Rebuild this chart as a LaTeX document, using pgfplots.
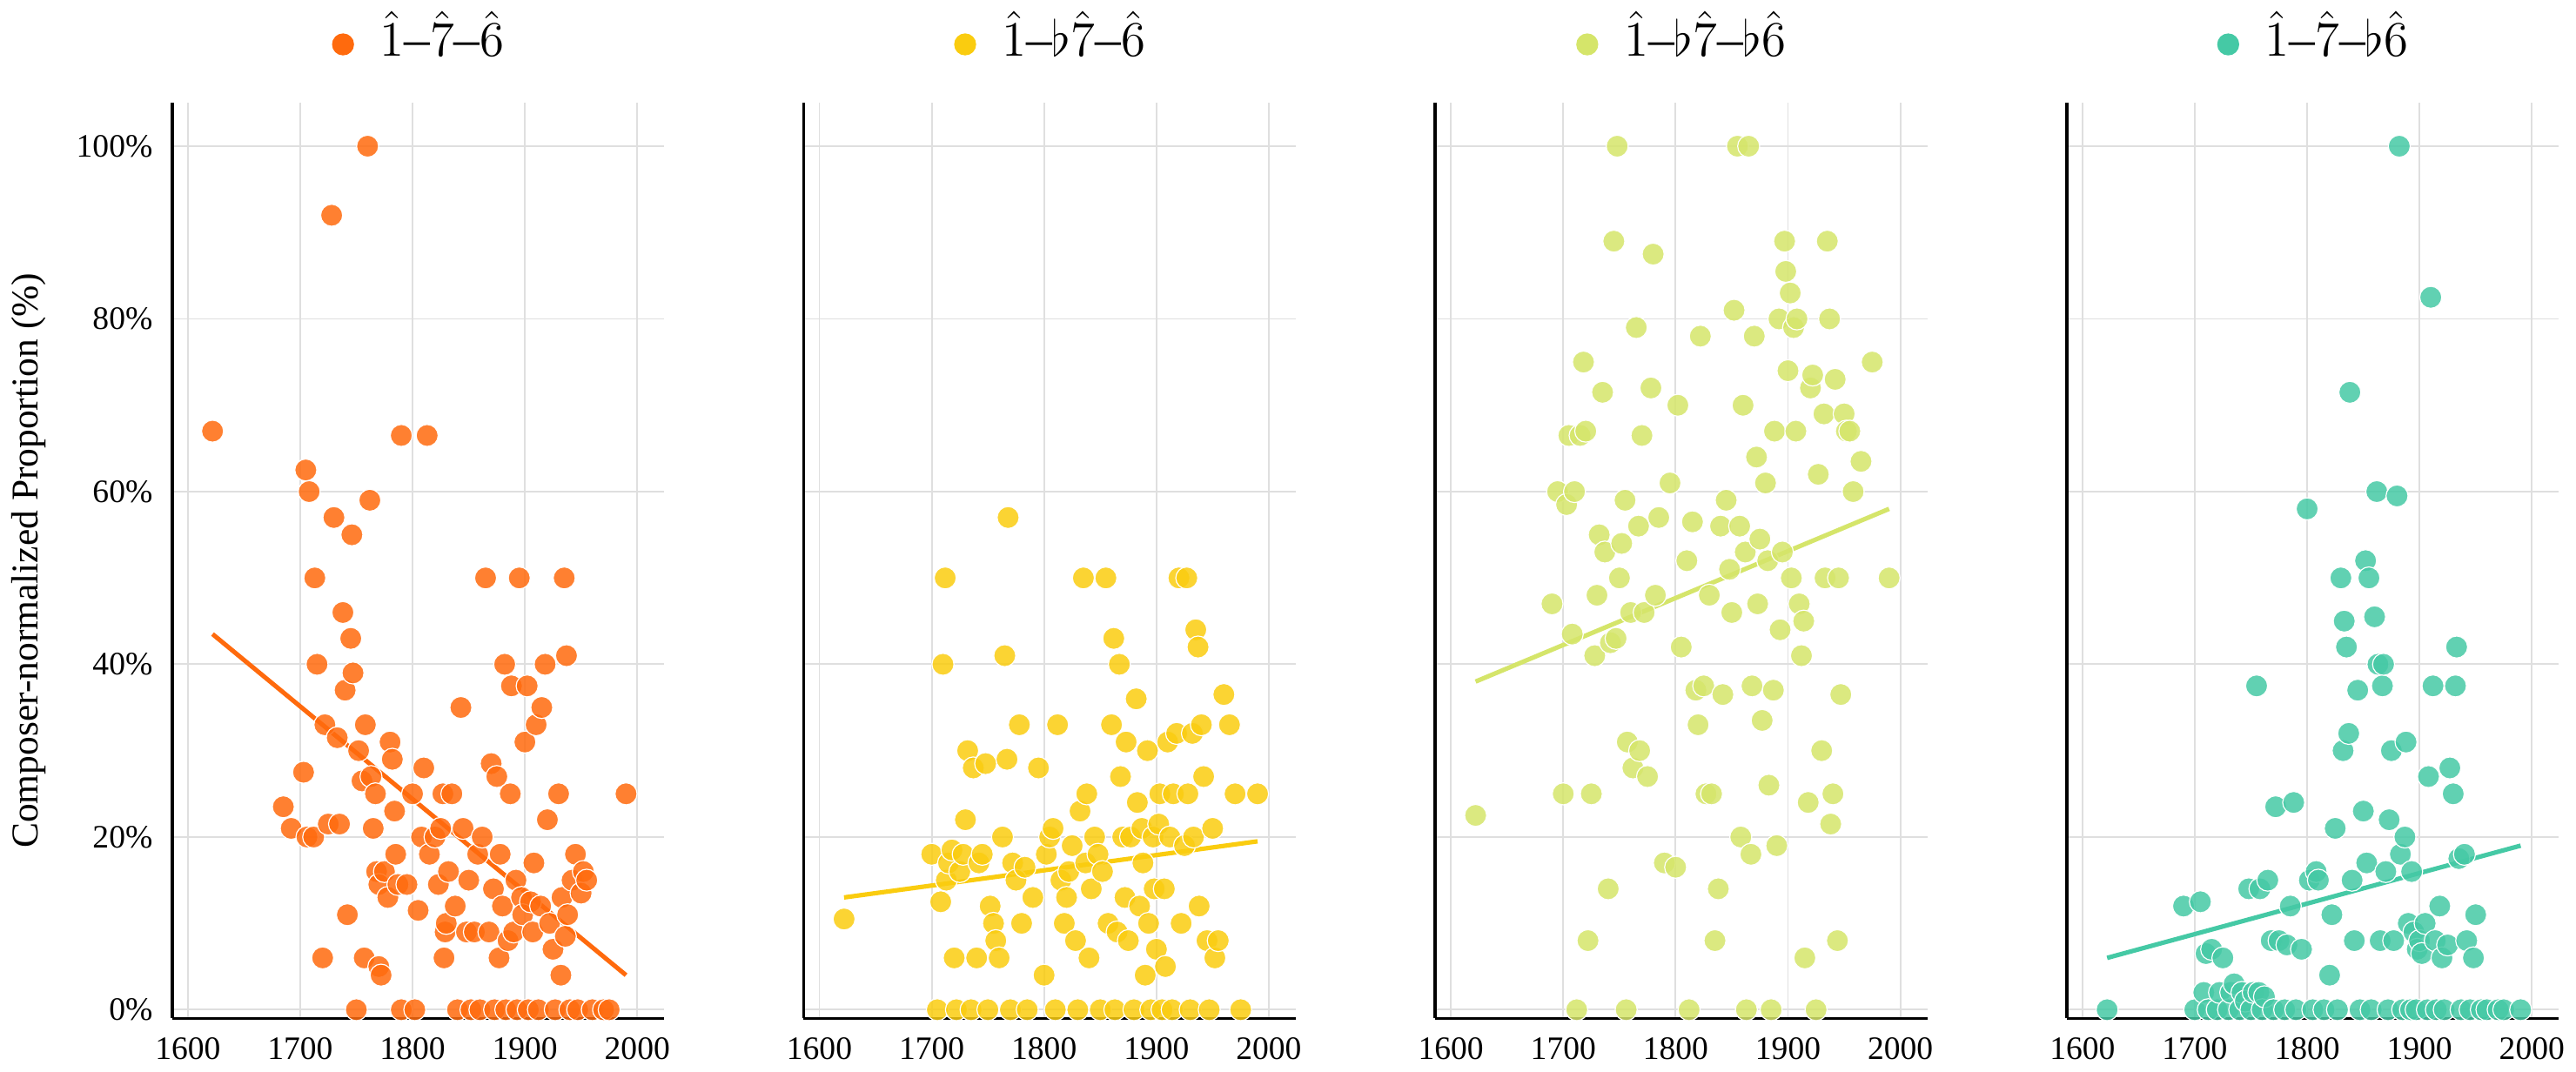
\documentclass[border=0pt]{standalone}
\usepackage{fontspec}
\setmainfont{Liberation Serif}
\usepackage{pgfplots}
\pgfplotsset{compat=1.18}
\definecolor{cA}{HTML}{FF6A0D}
\definecolor{cB}{HTML}{FACC0F}
\definecolor{cC}{HTML}{D5E56A}
\definecolor{cD}{HTML}{45C9A5}
\pgfplotsset{
 pan/.style={scale only axis, width=143pt, height=266pt,
  xmin=1586, xmax=2024, ymin=-1, ymax=105,
  axis x line=bottom, axis y line=left, axis line style={line width=0.9pt,-},
  xtick={1600,1700,1800,1900,2000}, ytick={0,20,40,60,80,100},
  xticklabel style={/pgf/number format/1000 sep={}},
  grid=major, grid style={gray!25, line width=0.5pt},
  tick style={draw=none}, tick label style={font=\rmfamily\fontsize{9.5}{11}\selectfont},
  /pgf/number format/assume math mode=true,
  title style={font=\fontsize{15}{17}\selectfont, yshift=4pt},
  clip=false},
 pts/.style={only marks, mark=*, mark size=3.2pt, draw=white, line width=0.3pt, fill=#1, fill opacity=0.85, draw opacity=1},
 reg/.style={no marks, draw=#1, line width=1.3pt}
}
\begin{document}
\begin{tikzpicture}
\begin{axis}[pan, at={(58.5pt,0)},
 yticklabel={\pgfmathprintnumber{\tick}\%},
 ylabel={Composer-normalized Proportion (\%)}, ylabel style={font=\fontsize{11}{13}\selectfont, yshift=2pt},
 title={\tikz[baseline=-3.5pt]\fill[cA] circle(3.2pt);\ \ $\hat{1}$–$\hat{7}$–$\hat{6}$}]
\addplot[pts=cA] coordinates {(1622,67)(1685,23.5)(1692,21)(1703,27.5)(1705,62.5)(1708,60)(1706,20)(1712,20)(1713,50)(1715,40)(1720,6)(1722,33)(1725,21.5)(1728,92)(1730,57)(1733,31.5)(1735,21.5)(1738,46)(1740,37)(1742,11)(1745,43)(1746,55)(1747,39)(1750,0)(1752,30)(1755,26.5)(1757,6)(1758,33)(1760,100)(1762,59)(1763,27)(1765,21)(1767,25)(1768,16)(1770,14.5)(1770,5)(1772,4)(1775,16)(1778,13)(1780,31)(1782,29)(1784,23)(1785,18)(1787,14.5)(1790,66.5)(1790,0)(1795,14.5)(1800,25)(1802,0)(1805,11.5)(1808,20)(1810,28)(1813,66.5)(1815,18)(1820,20)(1823,14.5)(1825,21)(1827,25)(1828,6)(1829,9)(1830,10)(1832,16)(1835,25)(1838,12)(1840,0)(1843,35)(1845,21)(1848,9)(1850,15)(1852,0)(1855,9)(1858,18)(1860,0)(1862,20)(1865,50)(1868,9)(1870,28.5)(1872,14)(1873,0)(1875,27)(1877,6)(1878,18)(1880,12)(1882,40)(1883,0)(1885,8)(1887,25)(1888,37.5)(1890,9)(1892,15)(1893,0)(1895,50)(1897,13)(1898,11)(1900,31)(1902,37.5)(1903,0)(1905,12.5)(1907,9)(1908,17)(1910,33)(1912,0)(1914,12)(1915,35)(1918,40)(1920,22)(1922,10)(1925,7)(1927,0)(1930,25)(1932,4)(1933,13)(1935,50)(1936,8.5)(1937,41)(1938,11)(1940,0)(1942,15)(1945,18)(1947,0)(1950,13.5)(1952,16)(1955,15)(1960,0)(1970,0)(1975,0)(1990,25)};
\addplot[reg=cA] coordinates {(1622,43.5)(1990,4)};
\end{axis}
\begin{axis}[pan, at={(242pt,0)}, yticklabels={},
 title={\tikz[baseline=-3.5pt]\fill[cB] circle(3.2pt);\ \ $\hat{1}$–$\flat\hat{7}$–$\hat{6}$}]
\addplot[pts=cB] coordinates {(1622,10.5)(1700,18)(1705,0)(1708,12.5)(1710,40)(1712,50)(1713,15)(1715,17)(1718,18.5)(1720,6)(1722,0)(1725,16)(1728,18)(1730,22)(1732,30)(1735,0)(1737,28)(1740,6)(1742,17)(1745,18)(1748,28.5)(1750,0)(1752,12)(1755,10)(1757,8)(1760,6)(1763,20)(1765,41)(1767,29)(1768,57)(1770,0)(1772,17)(1775,15)(1778,33)(1780,10)(1783,16.5)(1785,0)(1790,13)(1795,28)(1800,4)(1802,18)(1805,20)(1808,21)(1810,0)(1812,33)(1815,15)(1818,10)(1820,13)(1822,16)(1825,19)(1828,8)(1830,0)(1832,23)(1835,50)(1837,17)(1838,25)(1840,6)(1842,14)(1845,20)(1848,18)(1850,0)(1852,16)(1855,50)(1857,10)(1860,33)(1862,43)(1863,0)(1865,9)(1867,40)(1868,27)(1870,20)(1872,13)(1873,31)(1875,8)(1877,20)(1880,0)(1882,36)(1883,24)(1885,12)(1887,21)(1888,17)(1890,4)(1892,30)(1893,10)(1895,0)(1897,20)(1898,14)(1900,7)(1902,21.5)(1903,25)(1905,0)(1907,14)(1908,5)(1910,31)(1912,20)(1914,0)(1915,25)(1918,32)(1920,50)(1922,10)(1925,19)(1927,50)(1928,25)(1930,0)(1932,32)(1933,20)(1935,44)(1937,42)(1938,12)(1940,33)(1942,27)(1945,8)(1947,0)(1950,21)(1952,6)(1955,8)(1960,36.5)(1965,33)(1970,25)(1975,0)(1990,25)};
\addplot[reg=cB] coordinates {(1622,13)(1990,19.5)};
\end{axis}
\begin{axis}[pan, at={(425.5pt,0)}, yticklabels={},
 title={\tikz[baseline=-3.5pt]\fill[cC] circle(3.2pt);\ \ $\hat{1}$–$\flat\hat{7}$–$\flat\hat{6}$}]
\addplot[pts=cC] coordinates {(1622,22.5)(1690,47)(1695,60)(1700,25)(1703,58.5)(1705,66.5)(1708,43.5)(1710,60)(1712,0)(1715,66.5)(1718,75)(1720,67)(1722,8)(1725,25)(1728,41)(1730,48)(1732,55)(1735,71.5)(1737,53)(1740,14)(1742,42.5)(1745,89)(1747,43)(1748,100)(1750,50)(1752,54)(1755,59)(1756,0)(1757,31)(1760,46)(1762,28)(1765,79)(1767,56)(1768,30)(1770,66.5)(1772,46)(1775,27)(1778,72)(1780,87.5)(1782,48)(1785,57)(1790,17)(1795,61)(1800,16.5)(1802,70)(1805,42)(1810,52)(1812,0)(1815,56.5)(1818,37)(1820,33)(1822,78)(1825,37.5)(1827,25)(1830,48)(1832,25)(1835,8)(1838,14)(1840,56)(1842,36.5)(1845,59)(1848,51)(1850,46)(1852,81)(1855,100)(1857,56)(1858,20)(1860,70)(1862,53)(1863,0)(1865,100)(1867,18)(1868,37.5)(1870,78)(1872,64)(1873,47)(1875,54.5)(1877,33.5)(1880,61)(1882,52)(1883,26)(1885,0)(1887,37)(1888,67)(1890,19)(1892,80)(1893,44)(1895,53)(1897,89)(1898,85.5)(1900,74)(1902,83)(1903,50)(1905,79)(1907,67)(1908,80)(1910,47)(1912,41)(1914,45)(1915,6)(1918,24)(1920,72)(1922,73.5)(1925,0)(1927,62)(1930,30)(1932,69)(1933,50)(1935,89)(1937,80)(1938,21.5)(1940,25)(1942,73)(1944,8)(1945,50)(1947,36.5)(1950,69)(1952,67)(1955,67)(1958,60)(1965,63.5)(1975,75)(1990,50)};
\addplot[reg=cC] coordinates {(1622,38)(1990,58)};
\end{axis}
\begin{axis}[pan, at={(609pt,0)}, yticklabels={},
 title={\tikz[baseline=-3.5pt]\fill[cD] circle(3.2pt);\ \ $\hat{1}$–$\hat{7}$–$\flat\hat{6}$}]
\addplot[pts=cD] coordinates {(1622,0)(1690,12)(1700,0)(1705,12.5)(1708,2)(1710,6.5)(1712,0)(1715,7)(1720,0)(1722,2)(1725,6)(1730,0)(1732,2)(1735,3)(1740,0)(1742,2)(1745,1)(1748,14)(1750,0)(1752,2)(1755,37.5)(1757,2)(1758,14)(1760,0)(1762,1.5)(1765,15)(1768,8)(1770,0)(1772,23.5)(1775,8)(1780,0)(1782,7.5)(1785,12)(1788,24)(1790,0)(1795,7)(1800,58)(1802,15)(1805,0)(1808,16)(1810,15)(1815,0)(1820,4)(1822,11)(1825,21)(1827,0)(1830,50)(1832,30)(1833,45)(1835,42)(1837,32)(1838,71.5)(1840,15)(1842,8)(1845,37)(1847,0)(1850,23)(1852,52)(1853,17)(1855,50)(1857,0)(1860,45.5)(1862,60)(1863,40)(1865,8)(1867,37.5)(1868,40)(1870,16)(1872,0)(1873,22)(1875,30)(1877,8)(1880,59.5)(1882,100)(1883,18)(1885,0)(1887,20)(1888,31)(1890,10)(1892,0)(1893,16)(1895,9)(1897,0)(1898,7)(1900,8)(1902,6.5)(1905,10)(1907,0)(1908,27)(1910,82.5)(1912,37.5)(1914,8)(1915,0)(1918,12)(1920,6)(1922,0)(1925,7.5)(1927,28)(1930,25)(1932,37.5)(1933,42)(1935,17.5)(1937,0)(1940,18)(1942,8)(1945,0)(1948,6)(1950,11)(1955,0)(1960,0)(1970,0)(1975,0)(1990,0)};
\addplot[reg=cD] coordinates {(1622,6)(1990,19)};
\end{axis}
\end{tikzpicture}
\end{document}
